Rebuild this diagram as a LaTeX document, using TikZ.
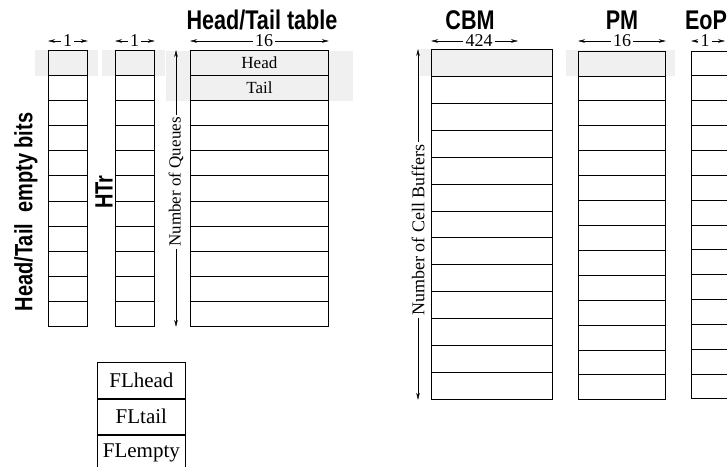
\documentclass[tikz,border=0pt]{standalone}
\usepackage{fontspec}
\setmainfont{Liberation Serif}
\newfontfamily\narrowsf[FakeStretch=0.8]{Liberation Sans}
\usetikzlibrary{calc, arrows.meta, positioning}
\definecolor{band}{gray}{0.94}

\begin{document}
\begin{tikzpicture}[x=1pt, y=-1pt, >={Stealth[length=7pt, width=3.5pt]}]
	\tikzstyle{col} = [draw, line width=0.8pt, rectangle, anchor=north west, inner sep=0pt]
	\tikzstyle{title} = [font=\narrowsf\bfseries\fontsize{27}{27}\selectfont, anchor=base, inner sep=0pt]
	\tikzstyle{side} = [font=\narrowsf\bfseries\fontsize{25}{25}\selectfont, rotate=90]
	\tikzstyle{dim} = [font=\fontsize{18}{18}\selectfont, inner xsep=2pt, inner ysep=0pt]
	\tikzstyle{cell} = [font=\fontsize{17}{17}\selectfont]
	\tikzstyle{fl} = [draw, line width=0.8pt, minimum width=88pt, minimum height=35.7pt, font=\fontsize{21}{21}\selectfont, inner sep=0pt]
	
	\path[use as bounding box, clip] (0,0) rectangle (727,466);
	
	% shaded first entries
	\fill[band] (35,50) rectangle (98,76);
	\fill[band] (102,50) rectangle (165,76);
	\fill[band] (166,51) rectangle (353,101);
	\fill[band] (420,49) rectangle (552,76);
	\fill[band] (566,50) rectangle (675,76);
	
	% memories
	\node[col, minimum width=39pt, minimum height=276pt] 	at (48, 50) 	(htbits) 	{};
	\node[col, minimum width=39pt, minimum height=276pt] 	at (115, 50) 	(htr) 		{};
	\node[col, minimum width=138pt, minimum height=276pt] 	at (190, 50) 	(httable) 	{};
	\node[col, minimum width=121pt, minimum height=350pt] 	at (431, 49) 	(cbm) 		{};
	\node[col, minimum width=87pt, minimum height=348pt] 	at (578, 51) 	(pm) 		{};
	\node[col, minimum width=60pt, minimum height=347pt] 	at (691, 51) 	(eop) 		{};
	
	\foreach \c/\n in {htbits/11, htr/11, httable/11, cbm/13, pm/14, eop/14} {
		\pgfmathtruncatemacro\last{\n-1}
		\foreach \i in {1,...,\last}
			\draw[line width=0.8pt] ($(\c.north west)!\i/\n!(\c.south west)$) -- ($(\c.north east)!\i/\n!(\c.south east)$);
	}
	
	\node[cell] at ($(httable.north)!0.5/11!(httable.south)$) (head) {Head};
	\node[cell] at ($(httable.north)!1.5/11!(httable.south)$) (tail) {Tail};
	
	% titles
	\node[title] 	at (262, 29.5) 	(httitle) 	{Head/Tail table};
	\node[title] 	at (470, 29.5) 	(cbmtitle) 	{CBM};
	\node[title] 	at (622, 29.5) 	(pmtitle) 	{PM};
	\node[title] 	at (706, 29.5) 	(eoptitle) 	{EoP};
	\node[side] 	at (26, 212) 	(htbitslbl) {Head/Tail\ \ empty bits};
	\node[side] 	at (104, 192) 	(htrlbl) 	{HTr};
	
	% widths
	\node[dim] 	at (67.5, 41) 	(w1) 	{1};
	\node[dim] 	at (134.5, 41) 	(w2) 	{1};
	\node[dim] 	at (264, 41) 	(w16) 	{16};
	\node[dim] 	at (479, 41) 	(w424) 	{424};
	\node[dim] 	at (622, 41) 	(w16b) 	{16};
	\node[dim] 	at (705, 41) 	(w1c) 	{1};
	\coordinate (w424r) at (518, 41);
	\coordinate (w1cr) at (725, 41);
	
	\draw[->] (w1.west) -- (w1 -| htbits.west);
	\draw[->] (w1.east) -- (w1 -| htbits.east);
	\draw[->] (w2.west) -- (w2 -| htr.west);
	\draw[->] (w2.east) -- (w2 -| htr.east);
	\draw[->] (w16.west) -- (w16 -| httable.west);
	\draw[->] (w16.east) -- (w16 -| httable.east);
	\draw[->] (w424.west) -- (w424 -| cbm.west);
	\draw[->] (w424.east) -- (w424r);
	\draw[->] (w16b.west) -- (w16b -| pm.west);
	\draw[->] (w16b.east) -- (w16b -| pm.east);
	\draw[->] (w1c.west) -- (w1c -| eop.west);
	\draw[->] (w1c.east) -- (w1cr);
	
	% depths
	\node[dim, rotate=90, font=\fontsize{17}{17}\selectfont] at (176, 182) (nq) {Number of Queues};
	\node[dim, rotate=90] 	at (418, 230) 	(ncb) 	{Number of Cell Buffers};
	\draw[->] (nq.east) -- (nq.east |- httable.north);
	\draw[->] (nq.west) -- (nq.west |- httable.south);
	\draw[->] (ncb.east) -- (ncb.east |- cbm.north);
	\draw[->] (ncb.west) -- (ncb.west |- cbm.south);
	
	% free list registers
	\node[fl, anchor=north west] 	at (97, 362) 	(flhead) 	{FLhead};
	\node[fl, below=0pt of flhead] 	(fltail) 	{FLtail};
	\node[fl, below=0pt of fltail] 	(flempty) 	{FLempty};
\end{tikzpicture}
\end{document}
